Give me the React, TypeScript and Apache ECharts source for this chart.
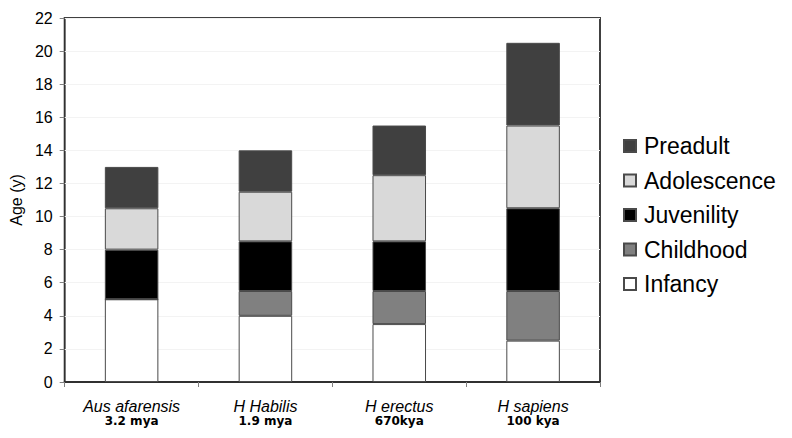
import React, { useEffect, useRef } from "react";
import * as echarts from "echarts";

const species = ["Aus afarensis", "H Habilis", "H erectus", "H sapiens"];
const epochs = ["3.2 mya", "1.9 mya", "670kya", "100 kya"];
const infancy = [5, 4, 3.5, 2.5];
const childhood = [0, 1.5, 2, 3];
const juvenility = [3, 3, 3, 5];
const adolescence = [2.5, 3, 4, 5];
const preadult = [2.5, 2.5, 3, 5];
const yTicks = { min: 0, max: 22, interval: 2 };
const legendOrder = ["Preadult", "Adolescence", "Juvenility", "Childhood", "Infancy"];

export default function App() {
  const ref = useRef<HTMLDivElement>(null);
  useEffect(() => {
    if (!ref.current) return;
    const chart = echarts.init(ref.current, null, { renderer: "svg" });
    const mk = (name: string, data: number[], color: string) => ({
      name,
      type: "bar",
      stack: "age",
      data,
      barWidth: "40%",
      itemStyle: { color, borderColor: "#4a4a4a", borderWidth: 1 },
      emphasis: { disabled: true },
    });
    chart.setOption({
      animation: false,
      backgroundColor: "#fff",
      grid: {
        left: 62,
        right: 192,
        top: 18,
        bottom: 56,
        show: true,
        borderColor: "#404040",
        borderWidth: 2,
        backgroundColor: "transparent",
      },
      legend: {
        orient: "vertical",
        left: 623,
        top: 134,
        padding: 0,
        itemWidth: 12,
        itemHeight: 12,
        itemGap: 10.5,
        data: legendOrder,
        textStyle: {
          fontFamily: "Liberation Sans, Arial, sans-serif",
          fontSize: 23,
          color: "#000",
          lineHeight: 24,
          padding: [0, 0, 0, 3],
        },
        icon: "rect",
      },
      xAxis: {
        type: "category",
        data: species.map((s, i) => s + "|" + epochs[i]),
        axisLine: { lineStyle: { color: "#303030", width: 2 } },
        axisTick: { show: true, length: 5, lineStyle: { color: "#808080" } },
        axisLabel: {
          margin: 16,
          formatter: (v: string) => {
            const [a, b] = v.split("|");
            return "{a|" + a + "}\n{b|" + b + "}";
          },
          rich: {
            a: {
              fontFamily: "Liberation Sans, Arial, sans-serif",
              fontStyle: "italic",
              fontSize: 16,
              color: "#000",
              lineHeight: 16,
            },
            b: {
              fontFamily: "DejaVu Sans",
              fontWeight: "bold",
              fontSize: 12,
              color: "#000",
              lineHeight: 13,
            },
          },
        },
      },
      yAxis: {
        type: "value",
        min: yTicks.min,
        max: yTicks.max,
        interval: yTicks.interval,
        name: "Age (y)",
        nameLocation: "middle",
        nameGap: 35,
        nameTextStyle: {
          fontFamily: "Liberation Sans, Arial, sans-serif",
          fontSize: 16,
          color: "#000",
        },
        axisLine: { show: true, lineStyle: { color: "#303030", width: 1 } },
        axisTick: { show: true, length: 5, lineStyle: { color: "#808080" } },
        axisLabel: {
          fontFamily: "Liberation Sans, Arial, sans-serif",
          fontSize: 16,
          color: "#000",
          margin: 12,
        },
        splitLine: { show: true, lineStyle: { color: "#f3f3f3" } },
      },
      series: [
        mk("Infancy", infancy, "#ffffff"),
        mk("Childhood", childhood, "#808080"),
        mk("Juvenility", juvenility, "#000000"),
        mk("Adolescence", adolescence, "#d9d9d9"),
        mk("Preadult", preadult, "#404040"),
      ],
    });
    return () => chart.dispose();
  }, []);
  return <div ref={ref} style={{ width: 792, height: 438, position: "absolute", left: 0, top: 0 }} />;
}
